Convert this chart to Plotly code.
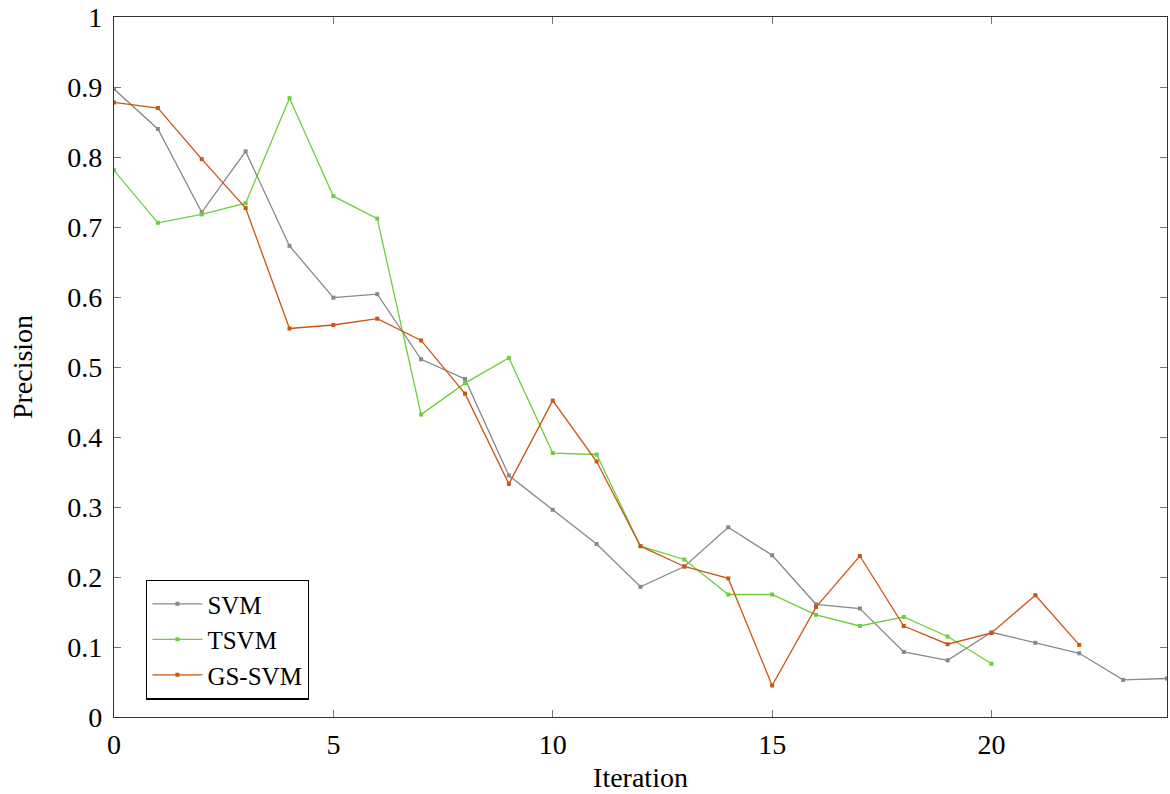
import plotly.graph_objects as go

svm_x = list(range(25))
svm_y = [0.897, 0.840, 0.721, 0.808, 0.673, 0.599, 0.604, 0.511, 0.483, 0.345,
         0.296, 0.247, 0.186, 0.215, 0.271, 0.231, 0.161, 0.155, 0.093, 0.081,
         0.121, 0.106, 0.091, 0.053, 0.055]
tsvm_x = list(range(21))
tsvm_y = [0.781, 0.706, 0.718, 0.734, 0.884, 0.744, 0.712, 0.432, 0.477, 0.513,
          0.377, 0.375, 0.244, 0.225, 0.175, 0.175, 0.146, 0.130, 0.143, 0.115,
          0.076]
gs_x = list(range(23))
gs_y = [0.878, 0.870, 0.797, 0.727, 0.555, 0.560, 0.569, 0.538, 0.462, 0.333,
        0.452, 0.365, 0.244, 0.215, 0.198, 0.045, 0.157, 0.230, 0.130, 0.104,
        0.120, 0.174, 0.103]

names = ["SVM", "TSVM", "GS-SVM"]
colors = ["#888888", "#6ccf3a", "#cc5511"]

font = "Liberation Serif, DejaVu Serif, serif"
fs = 28

fig = go.Figure()
for name, xs, ys, c in zip(names, [svm_x, tsvm_x, gs_x], [svm_y, tsvm_y, gs_y], colors):
    fig.add_trace(go.Scatter(
        x=xs, y=ys, name=name, mode="lines+markers",
        line=dict(color=c, width=1.3),
        marker=dict(symbol="square", size=4, color=c, line=dict(width=0)),
    ))

axis_common = dict(
    showgrid=False, zeroline=False, showline=True, linecolor="#333333", linewidth=1.3,
    mirror="ticks", ticks="inside", ticklen=7, tickcolor="#777777", tickwidth=1,
    tickfont=dict(family=font, size=fs, color="black"),
)

fig.update_layout(
    width=1170, height=794,
    margin=dict(l=114, r=3, t=17, b=77),
    paper_bgcolor="white", plot_bgcolor="white",
    font=dict(family=font, color="black"),
    xaxis=dict(range=[0, 24], tickvals=[0, 5, 10, 15, 20],
               title=dict(text="Iteration", font=dict(family=font, size=fs), standoff=8),
               ticklabelstandoff=2,
               **axis_common),
    yaxis=dict(range=[0, 1], tickvals=[i / 10 for i in range(11)],
               ticktext=["0", "0.1", "0.2", "0.3", "0.4", "0.5", "0.6", "0.7", "0.8", "0.9", "1"],
               title=dict(text="Precision", font=dict(family=font, size=fs), standoff=26),
               ticklabelstandoff=5,
               **axis_common),
    legend=dict(x=0.0305, y=0.196, xanchor="left", yanchor="top",
                bordercolor="black", borderwidth=1.3, bgcolor="white",
                font=dict(family=font, size=25), tracegroupgap=0,
                itemwidth=50),
    showlegend=True,
)

fig.write_html("out.html")
